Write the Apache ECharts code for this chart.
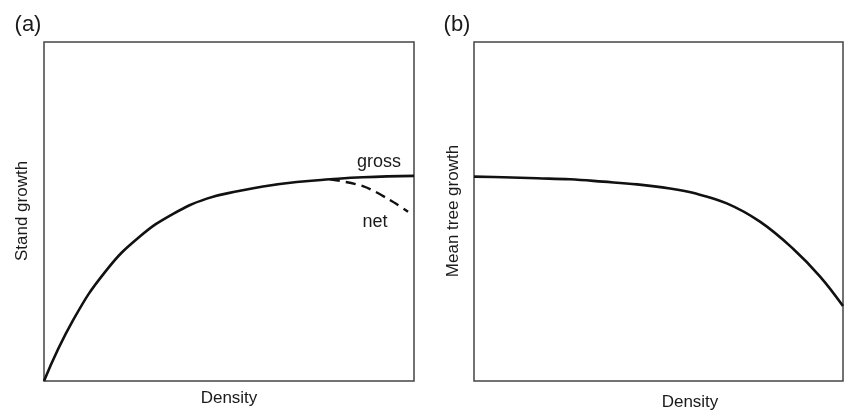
<!DOCTYPE html>
<html>
<head>
<meta charset="utf-8">
<script src="https://cdn.jsdelivr.net/npm/echarts@6/dist/echarts.min.js"></script>
<style>
html,body{margin:0;padding:0;background:#fff;}
#chart{width:846px;height:411px;}
</style>
</head>
<body>
<div id="chart"></div>
<script>
// Panel (a): stand growth vs density
const grossX = [0, 7.9, 16.9, 25.9, 34.9, 44.0, 53.0, 59.2, 68.3, 77.3, 86.2, 100];
const grossY = [0, 18.0, 32.7, 42.6, 49.3, 53.8, 56.1, 57.4, 58.7, 59.5, 60.1, 60.5];
const netX = [77.3, 86.2, 93.5, 98.4];
const netY = [59.5, 57.5, 53.4, 49.9];
// Panel (b): mean tree growth vs density
const meanX = [0, 7.9, 17.1, 26.0, 35.0, 44.2, 53.1, 59.3, 68.5, 77.5, 86.4, 93.8, 100];
const meanY = [60.3, 60.1, 59.8, 59.5, 58.8, 58.0, 56.8, 55.5, 52.4, 47.0, 39.1, 30.8, 22.1];

const panelLabels = ['(a)', '(b)'];
const xNames = ['Density', 'Density'];
const yNames = ['Stand growth', 'Mean tree growth'];
const curveLabels = ['gross', 'net'];

const zip = (xs, ys) => xs.map((x, i) => [x, ys[i]]);
const FONT = '"Liberation Sans", Arial, Helvetica, sans-serif';
const txt = (text, x, y, size, rot) => ({
  type: 'text', x: x, y: y, rotation: rot || 0,
  style: { text: text, fill: '#1a1a1a', font: size + 'px ' + FONT, textAlign: 'center', textVerticalAlign: 'middle' }
});

const axisBase = (gi) => ({
  gridIndex: gi, type: 'value', min: 0, max: 100,
  axisLine: { show: false }, axisTick: { show: false }, axisLabel: { show: false }, splitLine: { show: false }
});

const lineStyle = { color: '#111', width: 2.6 };

const chart = echarts.init(document.getElementById('chart'), null, { renderer: 'canvas' });
chart.setOption({
  animation: false,
  backgroundColor: '#fff',
  grid: [
    { left: 44, top: 42, width: 370, height: 339, show: true, borderColor: '#444', borderWidth: 1.5, backgroundColor: 'transparent' },
    { left: 474, top: 42, width: 369, height: 339, show: true, borderColor: '#444', borderWidth: 1.5, backgroundColor: 'transparent' }
  ],
  xAxis: [axisBase(0), axisBase(1)],
  yAxis: [axisBase(0), axisBase(1)],
  series: [
    { type: 'line', xAxisIndex: 0, yAxisIndex: 0, data: zip(grossX, grossY), smooth: 0.45, showSymbol: false, lineStyle: lineStyle },
    { type: 'line', xAxisIndex: 0, yAxisIndex: 0, data: zip(netX, netY), smooth: 0.3, showSymbol: false, lineStyle: { color: '#111', width: 2.4, type: [10, 6] } },
    { type: 'line', xAxisIndex: 1, yAxisIndex: 1, data: zip(meanX, meanY), smooth: 0.4, showSymbol: false, lineStyle: lineStyle }
  ],
  graphic: [
    txt(panelLabels[0], 28, 25, 22),
    txt(panelLabels[1], 457, 25, 22),
    txt(yNames[0], 22, 211, 17, Math.PI / 2),
    txt(yNames[1], 453, 211, 17, Math.PI / 2),
    txt(xNames[0], 229, 398, 17),
    txt(xNames[1], 690, 402, 17),
    txt(curveLabels[0], 379, 162, 18),
    txt(curveLabels[1], 375, 222, 18)
  ]
});
</script>
</body>
</html>
